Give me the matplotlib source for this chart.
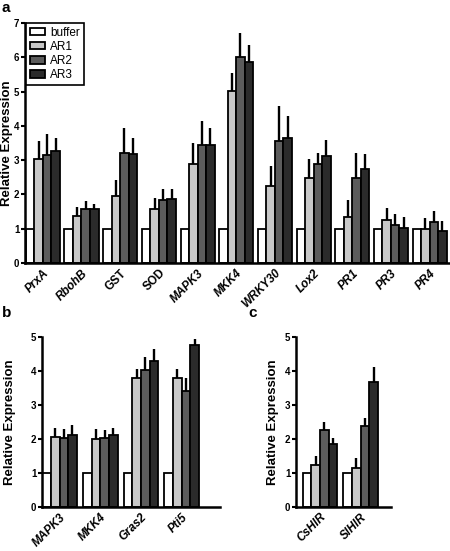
import matplotlib
matplotlib.use("Agg")
import matplotlib.pyplot as plt
import numpy as np

plt.rcParams["font.family"] = ["Liberation Sans", "DejaVu Sans"]

series = ["buffer", "AR1", "AR2", "AR3"]
colors = ["#ffffff", "#c8c8c8", "#5c5c5c", "#2b2b2b"]

# panel a
genes_a = ["PrxA", "RbohB", "GST", "SOD", "MAPK3", "MKK4", "WRKY30", "Lox2", "PR1", "PR3", "PR4"]
italic_a = [True, True, False, False, True, True, True, True, True, True, True]
vals_a = [
    [1, 1, 1, 1, 1, 1, 1, 1, 1, 1, 1],
    [3.04, 1.36, 1.96, 1.57, 2.88, 5.02, 2.26, 2.47, 1.33, 1.26, 1.00],
    [3.16, 1.58, 3.21, 1.85, 3.45, 6.00, 3.56, 2.88, 2.47, 1.10, 1.20],
    [3.28, 1.57, 3.18, 1.87, 3.45, 5.85, 3.65, 3.11, 2.74, 1.03, 0.94],
]
tops_a = [
    [1, 1, 1, 1, 1, 1, 1, 1, 1, 1, 1],
    [3.57, 1.63, 2.43, 1.90, 3.50, 5.54, 2.82, 3.02, 1.85, 1.60, 1.32],
    [3.75, 1.82, 3.94, 2.16, 4.13, 6.71, 4.57, 3.21, 3.21, 1.43, 1.53],
    [3.65, 1.71, 3.64, 2.15, 3.94, 6.36, 4.28, 3.60, 3.19, 1.33, 1.23],
]

# panel b
genes_b = ["MAPK3", "MKK4", "Gras2", "Pti5"]
vals_b = [
    [1, 1, 1, 1],
    [2.05, 2.00, 3.78, 3.78],
    [2.02, 2.02, 4.02, 3.42],
    [2.13, 2.13, 4.30, 4.76],
]
tops_b = [
    [1, 1, 1, 1],
    [2.31, 2.28, 4.07, 4.07],
    [2.29, 2.27, 4.41, 3.80],
    [2.41, 2.31, 4.66, 4.95],
]

# panel c
genes_c = ["CsHIR", "SlHIR"]
vals_c = [
    [1, 1],
    [1.24, 1.14],
    [2.27, 2.38],
    [1.85, 3.67],
]
tops_c = [
    [1, 1],
    [1.51, 1.44],
    [2.51, 2.61],
    [2.02, 4.12],
]


def draw_panel(ax, genes, vals, tops, width, italic, ymax, xlim, label_x):
    x = np.arange(len(genes))
    n = len(vals)
    for k in range(n):
        pos = x + (k - (n - 1) / 2) * width
        v = np.array(vals[k], dtype=float)
        up = np.array(tops[k], dtype=float) - v
        err = np.vstack([np.zeros_like(up), up])
        ax.bar(pos, v, width, color=colors[k], edgecolor="black", linewidth=1.3,
               label=series[k], zorder=2)
        mask = up > 0
        if mask.any():
            ax.errorbar(pos[mask], v[mask], yerr=err[:, mask], fmt="none",
                        ecolor="black", elinewidth=1.7, capsize=0, zorder=1)
    ax.set_ylim(0, ymax)
    ax.set_xlim(*xlim)
    ax.set_yticks(range(ymax + 1))
    ax.set_xticks(x)
    ax.set_xticklabels(genes, rotation=45, ha="right", rotation_mode="anchor",
                       fontsize=8.5, fontweight="bold")
    for lab, it in zip(ax.get_xticklabels(), italic):
        if it:
            lab.set_fontstyle("italic")
    ax.tick_params(axis="x", length=0, pad=3)
    ax.tick_params(axis="y", length=3, width=1.5, labelsize=7, pad=1)
    for lab in ax.get_yticklabels():
        lab.set_fontweight("bold")
    for s in ["top", "right"]:
        ax.spines[s].set_visible(False)
    for s in ["left", "bottom"]:
        ax.spines[s].set_linewidth(1.8)
    ax.set_ylabel("Relative Expression", fontsize=9.5, fontweight="bold")
    # label_x: pixel column of the label's right edge
    fx = label_x / 450.0
    ax_left, ax_w = ax.get_position().x0, ax.get_position().width
    ax.yaxis.set_label_coords((fx - ax_left) / ax_w, 0.5)


fig = plt.figure(figsize=(4.5, 5.51), dpi=100)

ax_a = fig.add_axes([0.0556, 0.5227, 0.942, 0.4356])
draw_panel(ax_a, genes_a, vals_a, tops_a, 0.22, italic_a, 7, (-0.46, 10.5), 13)
leg = ax_a.legend(loc="upper left", bbox_to_anchor=(0.003, 1.0), borderaxespad=0,
                  fontsize=8.5, fancybox=False, framealpha=1, edgecolor="black",
                  handlelength=1.2, handleheight=0.55, handletextpad=0.45,
                  labelspacing=0.17, borderpad=0.35)
leg.get_frame().set_linewidth(1.2)

ax_b = fig.add_axes([0.0933, 0.0799, 0.3956, 0.3085])
draw_panel(ax_b, genes_b, vals_b, tops_b, 0.2125, [True] * 4, 5, (-0.43, 3.94), 16)

ax_c = fig.add_axes([0.6578, 0.0799, 0.211, 0.3085])
draw_panel(ax_c, genes_c, vals_c, tops_c, 0.2125, [True] * 2, 5, (-0.585, 1.74), 279)

fig.text(0.004, 0.999, "a", fontsize=11, fontweight="bold", va="top")
fig.text(0.004, 0.445, "b", fontsize=11, fontweight="bold", va="top")
fig.text(0.553, 0.445, "c", fontsize=11, fontweight="bold", va="top")

fig.savefig("out.png", dpi=100)
